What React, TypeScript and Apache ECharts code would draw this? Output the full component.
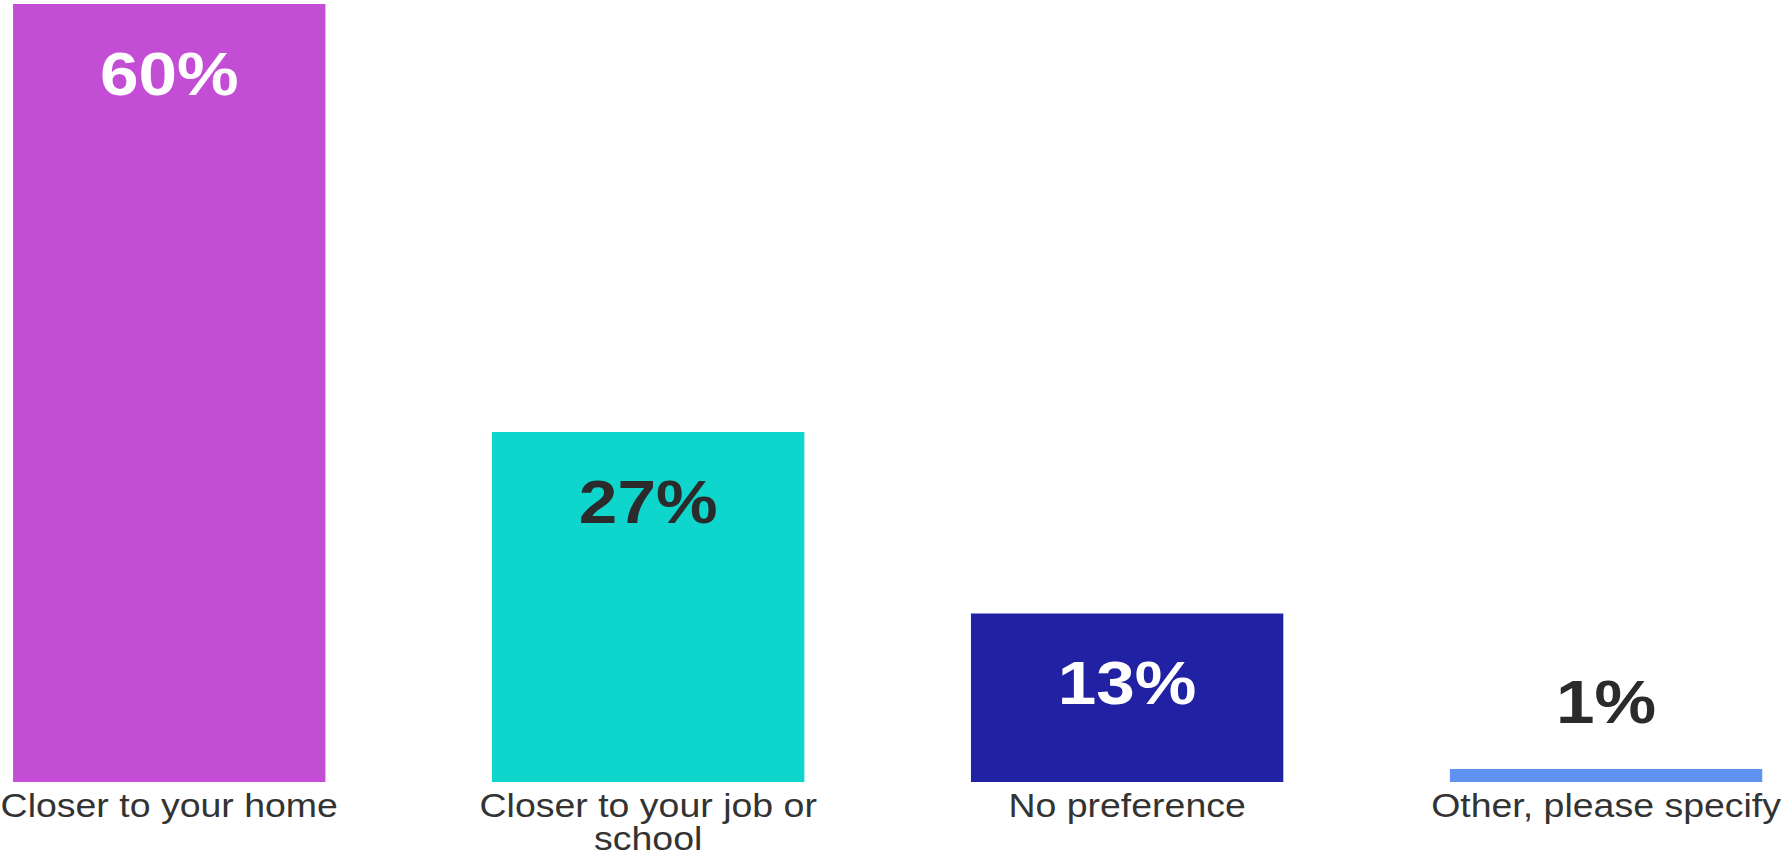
import React, { useEffect, useRef } from "react";
import * as echarts from "echarts";

const categories = [
  "Closer to your home",
  "Closer to your job or\nschool",
  "No preference",
  "Other, please specify",
];
const values = [60, 27, 13, 1];
const valueLabels = ["60%", "27%", "13%", "1%"];
const barColors = ["#C44DD6", "#0ED6CD", "#2121A3", "#5F92F1"];
const labelColors = ["#FFFFFF", "#2B2B2B", "#FFFFFF", "#2B2B2B"];
const labelInside = [true, true, true, false];

const BASE_W = 1568;
const FULL_W = 1781;
const H = 856;

export default function App() {
  const ref = useRef<HTMLDivElement>(null);
  useEffect(() => {
    document.documentElement.style.overflow = "hidden";
    document.body.style.margin = "0";
    document.body.style.overflow = "hidden";
    if (!ref.current) return;
    const chart = echarts.init(ref.current, null, { renderer: "svg" });
    chart.setOption({
      animation: false,
      backgroundColor: "#FFFFFF",
      grid: {
        left: 149,
        right: 154,
        top: 4,
        bottom: 74,
        containLabel: false,
        outerBoundsMode: "none",
      },
      xAxis: {
        type: "category",
        data: categories,
        boundaryGap: false,
        axisLine: { show: false },
        axisTick: { show: false },
        axisLabel: {
          interval: 0,
          color: "#333333",
          fontFamily: "Liberation Sans, Arial, sans-serif",
          fontSize: 33,
          lineHeight: 33,
          margin: 7,
          align: "center",
        },
      },
      yAxis: {
        type: "value",
        min: 0,
        max: 60,
        show: false,
        splitLine: { show: false },
      },
      series: [
        {
          type: "bar",
          barWidth: 275,
          data: values.map((v, i) => ({
            value: v,
            itemStyle: { color: barColors[i] },
            label: {
              show: true,
              formatter: valueLabels[i],
              position: ["50%", labelInside[i] ? 70 : -67],
              align: "center",
              verticalAlign: "middle",
              color: labelColors[i],
              fontSize: 61,
              fontWeight: "bold",
              fontFamily: "Liberation Sans, Arial, sans-serif",
            },
          })),
        },
      ],
    });
    return () => chart.dispose();
  }, []);
  return (
    <div
      style={{
        position: "fixed",
        left: 0,
        top: 0,
        width: FULL_W,
        height: H,
        overflow: "hidden",
        background: "#fff",
      }}
    >
      <div
        ref={ref}
        style={{
          width: BASE_W,
          height: H,
          overflow: "hidden",
          transform: `scaleX(${FULL_W / BASE_W})`,
          transformOrigin: "0 0",
        }}
      />
    </div>
  );
}
